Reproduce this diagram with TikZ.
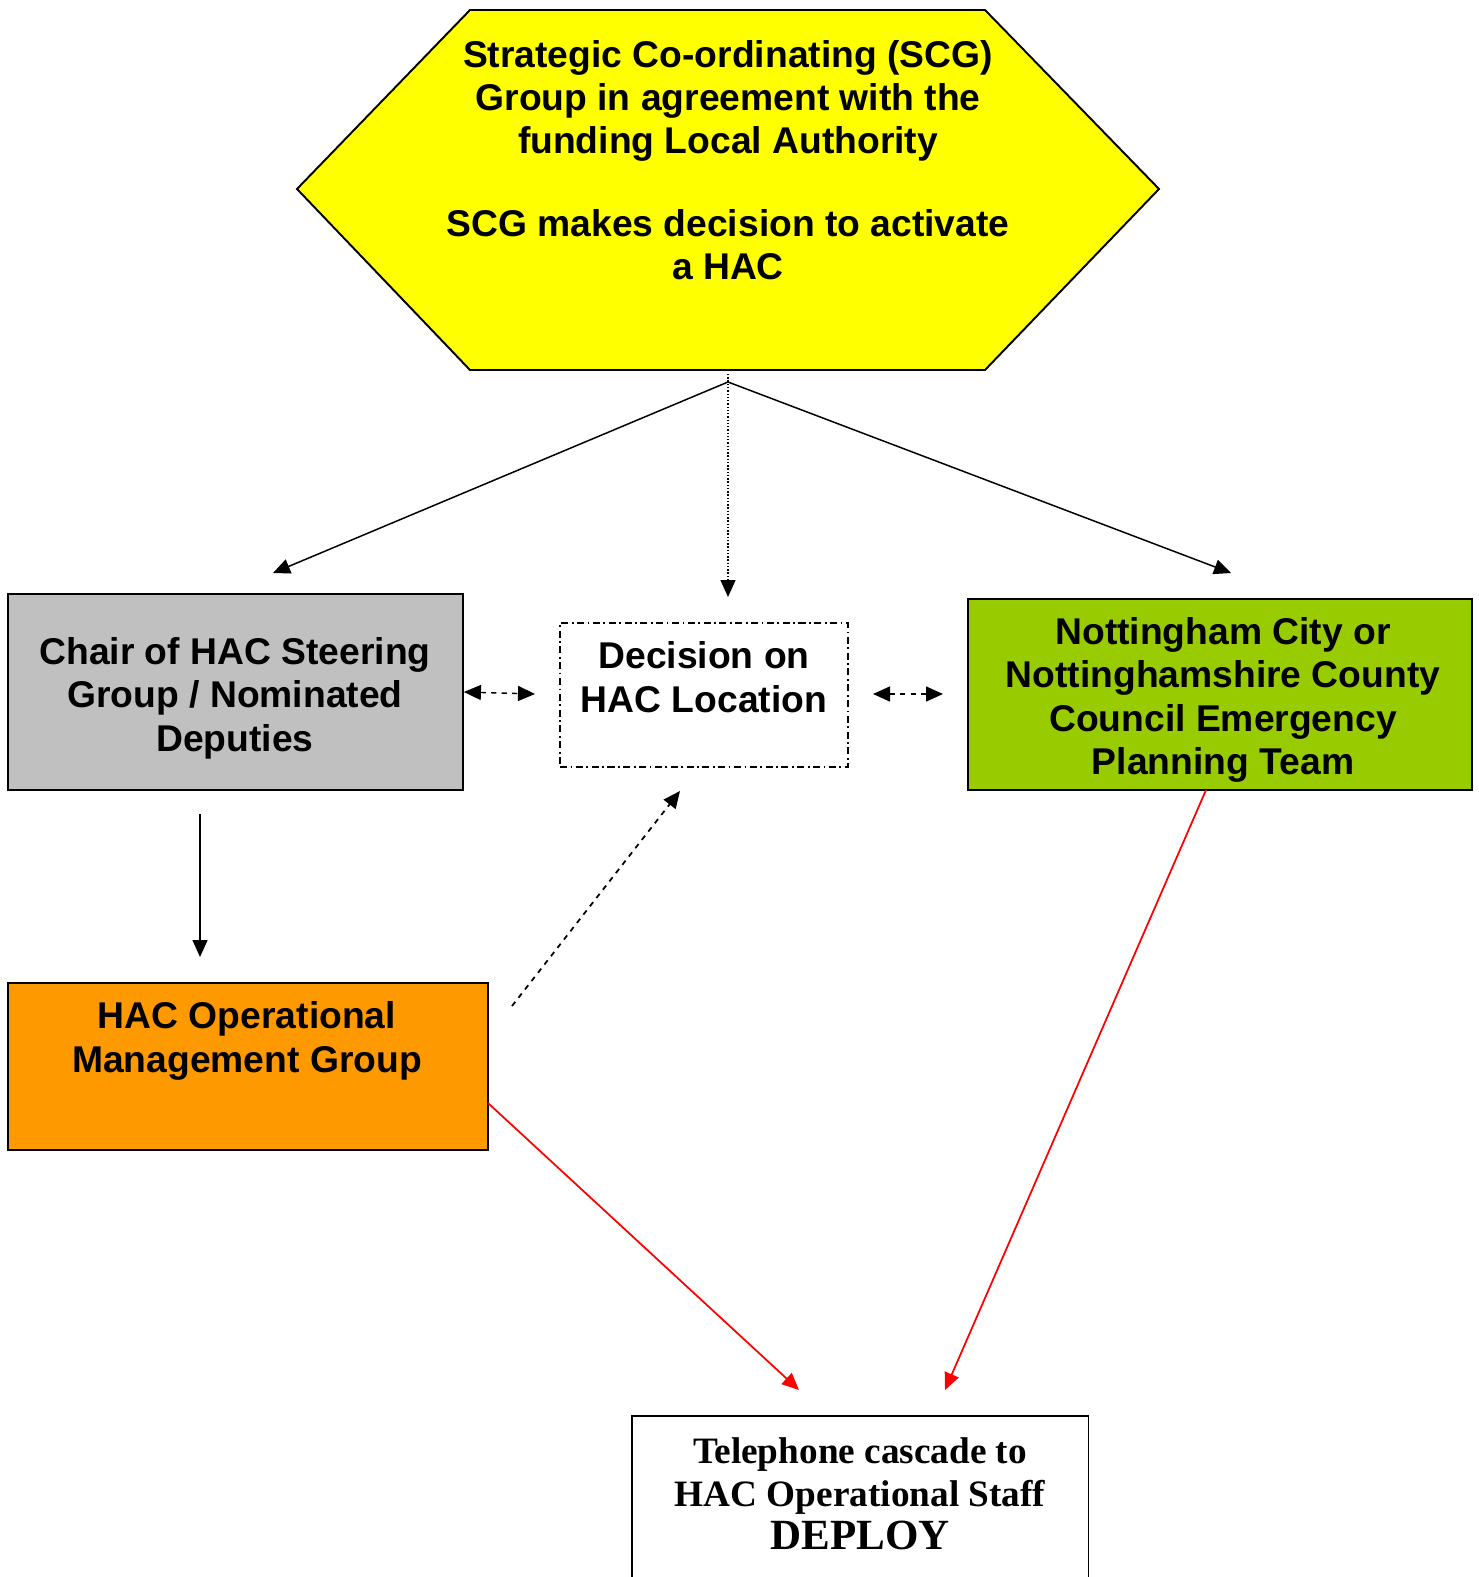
\documentclass[tikz,border=0pt]{standalone}
\usepackage{fontspec}
\setmainfont{Liberation Serif}
\setsansfont{Liberation Sans}
\usetikzlibrary{arrows.meta}
\definecolor{hacyellow}{HTML}{FFFF00}
\definecolor{hacgray}{HTML}{C0C0C0}
\definecolor{hacgreen}{HTML}{99CC00}
\definecolor{hacorange}{HTML}{FF9900}

\begin{document}
\begin{tikzpicture}[x=0.02cm,y=-0.02cm,line width=0.8pt,>={Triangle[length=3.4mm,width=3mm]},
  box/.style={draw,line width=1.1pt,inner sep=0pt},
  txt/.style={align=center,font=\sffamily\bfseries\fontsize{21.2}{24.7}\selectfont},
  link/.style={->,line width=0.85pt}]
  \useasboundingbox (0,0) rectangle (1479,1577);
  % strategic group
  \draw[box,fill=hacyellow] (470,10) -- (985,10) -- (1159,189) -- (985,370) -- (470,370) -- (297,189) -- cycle;
  \node[txt] (scg) at (728,160) {Strategic Co-ordinating (SCG)\\Group in agreement with the\\funding Local Authority\\[22pt]SCG makes decision to activate\\a HAC};
  \coordinate (scgbot) at (728,374);
  \coordinate (split) at (728,382);
  % middle row
  \node[box,fill=hacgray,minimum width=9.1cm,minimum height=3.92cm] (chair) at (235.5,692) {};
  \node[txt] (chairtxt) at (235,698) {Chair of HAC Steering\\Group / Nominated\\Deputies};
  \node[draw,dash pattern=on 4pt off 2pt on 1pt off 2pt,line width=0.8pt,minimum width=5.76cm,minimum height=2.88cm] (locn) at (704,695) {};
  \node[txt] (locntxt) at (704,677) {Decision on\\HAC Location};
  \node[box,fill=hacgreen,minimum width=10.08cm,minimum height=3.82cm] (ecc) at (1220,694.5) {};
  \node[txt] (ecctxt) at (1223,700) {Nottingham City or\\Nottinghamshire County\\Council Emergency\\Planning Team};
  % lower boxes
  \node[box,fill=hacorange,minimum width=9.6cm,minimum height=3.34cm] (hacomg) at (248,1066.5) {};
  \node[txt] (hacomgtxt) at (247,1041) {HAC Operational\\Management Group};
  \node[box,anchor=north,minimum width=9.14cm,minimum height=4.6cm] (cascade) at (860,1415) {};
  \node[align=center,font=\rmfamily\bfseries\fontsize{21.2}{24.6}\selectfont] (cascadetxt) at (860,1494)
    {Telephone cascade to\\HAC Operational Staff\\{\fontsize{24.5}{29}\selectfont DEPLOY}};
  % arrow ends
  \coordinate (chairin) at (273,573);
  \coordinate (eccin) at (1231,573);
  \coordinate (locnin) at (728,597);
  \coordinate (locnw) at (535,694);
  \coordinate (locne) at (873,694);
  \coordinate (eccw) at (943,694);
  \coordinate (chairout) at (200,814);
  \coordinate (hacomgin) at (200,957);
  \coordinate (hacomgne) at (512,1006);
  \coordinate (locnsw) at (680,791);
  \coordinate (hacomgout) at (488,1103);
  \coordinate (cascadel) at (799,1390);
  \coordinate (eccout) at (1206,790);
  \coordinate (cascader) at (945,1390);
  % connectors
  \draw[link] (split) -- (chairin);
  \draw[link] (split) -- (eccin);
  \draw[link,densely dotted] (scgbot) -- (locnin);
  \draw[<->,dashed] (chair.east) -- (locnw);
  \draw[<->,dashed] (locne) -- (eccw);
  \draw[link] (chairout) -- (hacomgin);
  \draw[link,dashed,line width=1pt] (hacomgne) -- (locnsw);
  \draw[link,red,line width=1pt] (hacomgout) -- (cascadel);
  \draw[link,red,line width=1pt] (eccout) -- (cascader);
\end{tikzpicture}
\end{document}
